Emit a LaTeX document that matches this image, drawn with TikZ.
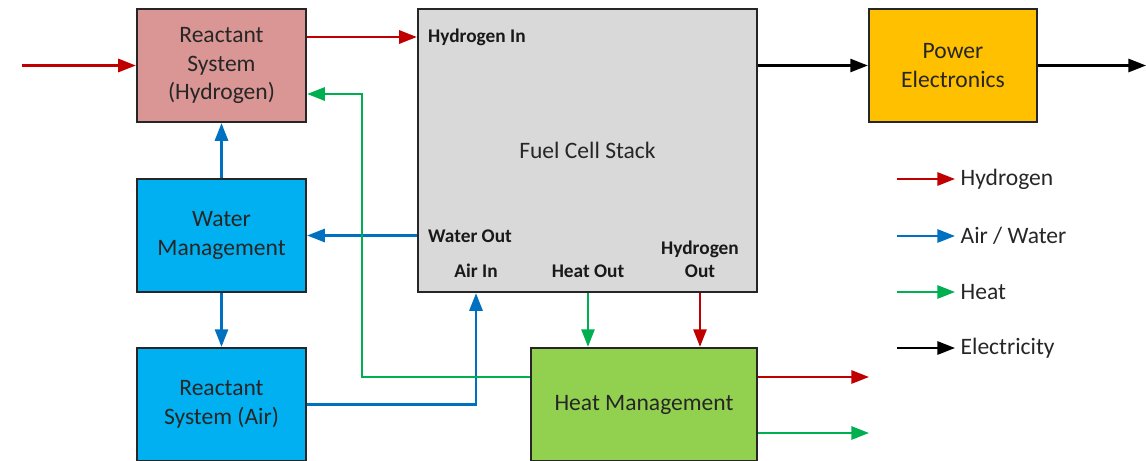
\documentclass[tikz,border=0pt]{standalone}
\usepackage{fontspec}
\setmainfont{Carlito}
\usepackage{xcolor}
\usepackage{tikz}
\usetikzlibrary{arrows.meta,positioning,calc}
\definecolor{clrH2}{HTML}{C00000}
\definecolor{clrAir}{HTML}{0070C0}
\definecolor{clrHeat}{HTML}{00B050}
\definecolor{fillH2}{HTML}{D99694}
\definecolor{fillWater}{HTML}{00B0F0}
\definecolor{fillStack}{HTML}{D9D9D9}
\definecolor{fillPower}{HTML}{FFC000}
\definecolor{fillHeat}{HTML}{92D050}
\tikzset{
  sysbox/.style={rectangle, draw=black!85, line width=1.35pt,
    minimum width=3.38cm, minimum height=2.26cm, align=center, inner sep=2pt,
    text=black!85, font=\fontsize{13.4}{16.2}\selectfont},
  port/.style={font=\fontsize{11}{13}\selectfont\bfseries, align=center,
    text=black!90, inner sep=3pt},
  legtxt/.style={anchor=west, text=black!85, inner sep=3pt,
    font=\fontsize{13.4}{16.2}\selectfont},
  flow/.style={-{Triangle[length=10pt, width=7.5pt]}, line width=1.25pt},
  h2/.style={flow, clrH2},
  air/.style={flow, clrAir},
  heat/.style={flow, clrHeat},
  elec/.style={flow, black},
}

\begin{document}
\begin{tikzpicture}

\useasboundingbox (0,0) rectangle (22.92,-9.2);

\def\xleft{4.43}
\def\xright{19.06}
\def\yrowA{-1.31}
\def\yrowB{-4.71}
\def\yrowC{-8.09}

% ── boxes ──────────────────────────────────────────────────────────────────
\node[sysbox, fill=fillH2] (rsH) at (\xleft, \yrowA)
  {Reactant\\System\\(Hydrogen)};
\node[sysbox, fill=fillWater] (wm) at (\xleft, \yrowB)
  {Water\\Management};
\node[sysbox, fill=fillWater] (rsA) at (\xleft, \yrowC)
  {Reactant\\System (Air)};
\node[sysbox, fill=fillStack, minimum width=6.78cm, minimum height=5.66cm]
  (fcs) at (11.75, -3.01) {Fuel Cell Stack};
\node[sysbox, fill=fillPower, minimum width=3.36cm] (pe) at (\xright, \yrowA)
  {Power\\Electronics};
\node[sysbox, fill=fillHeat, minimum width=4.52cm] (hm) at (12.88, \yrowC)
  {Heat Management};

% ── ports on the stack ─────────────────────────────────────────────────────
\node[port, anchor=west] (hin) at (8.45, -0.74) {Hydrogen In};
\node[port, anchor=west] (wout) at (8.45, -4.72) {Water Out};
\node[port] (airin) at (9.52, -5.42) {Air In};
\node[port] (heatout) at (11.76, -5.42) {Heat Out};
\node[port] (h2out) at (14.0, -5.19) {Hydrogen\\Out};

% ── hydrogen ───────────────────────────────────────────────────────────────
\coordinate (h2src) at (0.44, \yrowA);
\draw[h2] (h2src) -- (rsH.west);
\draw[h2] (rsH.east |- hin) -- (fcs.west |- hin);
\draw[h2] (h2out |- fcs.south) -- (h2out |- hm.north);
\coordinate (h2sink) at (17.38, -7.54);
\draw[h2] (hm.east |- h2sink) -- (h2sink);

% ── air / water ────────────────────────────────────────────────────────────
\draw[air] (wm.north) -- (rsH.south);
\draw[air] (fcs.west |- wm.east) -- (wm.east);
\draw[air] (wm.south) -- (rsA.north);
\draw[air] (rsA.east) -| (airin |- fcs.south);

% ── heat ───────────────────────────────────────────────────────────────────
\coordinate (gturn) at (7.24, -1.88);
\draw[heat] (hm.west |- h2sink) -| (gturn) -- (gturn -| rsH.east);
\draw[heat] (heatout |- fcs.south) -- (heatout |- hm.north);
\coordinate (heatsink) at (17.38, -8.66);
\draw[heat] (hm.east |- heatsink) -- (heatsink);

% ── electricity ────────────────────────────────────────────────────────────
\draw[elec] (fcs.east |- pe.west) -- (pe.west);
\coordinate (elsink) at (22.92, \yrowA);
\draw[elec] (pe.east) -- (elsink);

% ── legend ─────────────────────────────────────────────────────────────────
\foreach \nm/\sty/\txt/\y in {H/h2/Hydrogen/-3.58, A/air/{Air / Water}/-4.72,
    T/heat/Heat/-5.84, E/elec/Electricity/-6.96} {
  \node[legtxt] (leg\nm) at (19.1, \y) {\txt};
  \coordinate (legs\nm) at (17.94, \y);
  \draw[\sty] (legs\nm) -- (leg\nm.west);
}

\end{tikzpicture}
\end{document}
